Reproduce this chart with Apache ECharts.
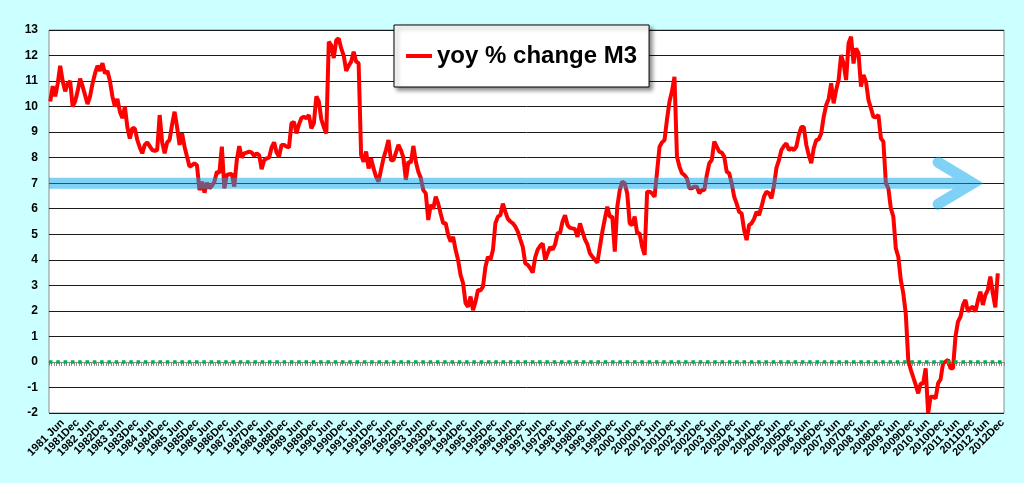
<!DOCTYPE html>
<html>
<head>
<meta charset="utf-8">
<script src="https://cdn.jsdelivr.net/npm/echarts@6/dist/echarts.min.js"></script>
<style>
html,body{margin:0;padding:0;background:#CCFFFF;}
#chart{width:1024px;height:483px;}
</style>
</head>
<body>
<div id="chart"></div>
<script>
// ---- data ----
const firstYear = 1981;
const lastYear = 2012;
const months = ['Jan','Feb','Mar','Apr','May','Jun','Jul','Aug','Sep','Oct','Nov','Dec'];
const tickLabelMonths = ['Jun','Dec'];
const seriesName = 'yoy % change M3';

const m3_1980s = [
  10.2, 10.8, 10.4, 10.9, 11.6, 11.0, 10.6, 10.9, 11.0, 10.0, 10.2, 10.6,
  11.1, 10.8, 10.45, 10.1, 10.4, 10.9, 11.3, 11.6, 11.4, 11.7, 11.3, 11.4,
  11.0, 10.4, 10.0, 10.3, 9.8, 9.55, 10.0, 9.2, 8.75, 9.15, 9.15, 8.7,
  8.4, 8.17, 8.5, 8.6, 8.45, 8.3, 8.27, 8.3, 9.67, 8.6, 8.17, 8.6,
  8.7, 9.3, 9.8, 9.2, 8.5, 8.95, 8.43, 8.04, 7.65, 7.7, 7.78, 7.7,
  6.73, 7.06, 6.63, 7.02, 6.8, 6.9, 7.06, 7.45, 7.4, 8.43, 6.8, 7.32,
  7.35, 7.36, 6.87, 7.9, 8.45, 8.0, 8.17, 8.2, 8.24, 8.2, 8.07, 8.17,
  8.1, 7.55, 7.9, 7.97, 8.0, 8.4, 8.6, 8.2, 8.04, 8.5, 8.5, 8.43,
  8.4, 9.35, 9.4, 8.95, 9.3, 9.55, 9.6, 9.54, 9.67, 9.15, 9.35, 10.4
];
const m3_1990s = [
  10.2, 9.5, 9.2, 8.95, 12.54, 12.4, 11.9, 12.6, 12.67, 12.28, 12.0, 11.4,
  11.6, 11.76, 12.15, 11.76, 11.7, 8.1, 7.84, 8.24, 7.58, 7.97, 7.58, 7.26,
  7.06, 7.52, 7.97, 8.3, 8.69, 7.9, 7.9, 8.2, 8.5, 8.3, 8.0, 7.13,
  7.84, 7.8, 8.46, 7.84, 7.45, 7.2, 6.73, 6.6, 5.56, 6.15, 6.0, 6.47,
  6.2, 5.8, 5.43, 5.43, 4.97, 4.71, 4.9, 4.38, 3.99, 3.4, 3.08, 2.3,
  2.16, 2.56, 2.03, 2.36, 2.82, 2.8, 2.95, 3.73, 4.12, 4.0, 4.38, 5.43,
  5.69, 5.75, 6.2, 5.88, 5.6, 5.5, 5.43, 5.3, 5.1, 4.8, 4.51, 3.86,
  3.8, 3.67, 3.5, 4.1, 4.4, 4.55, 4.64, 3.99, 4.25, 4.5, 4.4, 4.6,
  5.04, 5.06, 5.5, 5.75, 5.36, 5.25, 5.23, 5.2, 4.9, 5.43, 5.1, 4.8,
  4.6, 4.25, 4.12, 4.0, 3.89, 4.5, 5.1, 5.6, 6.08, 5.69, 5.69, 4.32
];
const m3_2000s = [
  6.08, 6.73, 7.06, 7.0, 6.6, 5.43, 5.36, 5.69, 5.04, 5.04, 4.51, 4.19,
  6.67, 6.67, 6.6, 6.47, 7.45, 8.43, 8.6, 8.69, 9.5, 10.2, 10.6, 11.17,
  8.04, 7.65, 7.39, 7.32, 7.19, 6.8, 6.8, 6.86, 6.86, 6.6, 6.73, 6.73,
  7.32, 7.78, 7.91, 8.63, 8.43, 8.24, 8.2, 8.04, 7.45, 7.39, 6.99, 6.47,
  6.2, 5.88, 5.82, 5.17, 4.77, 5.36, 5.43, 5.6, 5.88, 5.75, 6.08, 6.47,
  6.67, 6.6, 6.41, 6.9, 7.6, 7.9, 8.3, 8.45, 8.56, 8.3, 8.37, 8.3,
  8.43, 8.89, 9.2, 9.2, 8.5, 8.1, 7.78, 8.37, 8.69, 8.72, 8.95, 9.6,
  10.06, 10.3, 10.91, 10.13, 10.65, 11.04, 12.02, 11.69, 11.04, 12.48, 12.74, 11.69,
  12.28, 12.09, 10.78, 11.24, 10.98, 10.26, 9.93, 9.6, 9.58, 9.67, 8.76, 8.63,
  7.0, 6.8, 6.02, 5.69, 4.45, 4.12, 3.21, 2.69, 1.9, 0.08, -0.3, -0.6
];
const m3_2010s = [
  -0.9, -1.23, -0.84, -0.84, -0.25, -2.01, -1.36, -1.36, -1.43, -0.84, -0.68, -0.05,
  0.01, 0.08, -0.25, -0.25, 1.0, 1.58, 1.77, 2.23, 2.43, 1.97, 2.1, 2.16,
  1.97, 2.4, 2.75, 2.23, 2.62, 2.82, 3.34, 2.69, 2.14, 3.47, null, null
];

// y axis
const yMin = -2, yMax = 13, yStep = 1;
// reference levels
const zeroLevel = 0;
const arrowLevel = 7;
// arrow geometry in axis units (category index / value)
const arrowTipIndex = 371;
const arrowWingIndex = 357;
const arrowWingSpread = 0.82;

// ---- build ----
const categories = [];
for (let y = firstYear; y <= lastYear; y++) {
  months.forEach(m => categories.push(m === 'Dec' ? (y + 'Dec') : (y + ' ' + m)));
}
const values = m3_1980s.concat(m3_1990s, m3_2000s, m3_2010s);
const isTickLabel = (val) => tickLabelMonths.some(m => val.endsWith(m));
const lastIdx = categories.length - 1;

const chart = echarts.init(document.getElementById('chart'));
const FONT = 'Liberation Sans, Arial, sans-serif';

chart.setOption({
  animation: false,
  backgroundColor: '#CCFFFF',
  textStyle: { fontFamily: FONT },
  grid: {
    left: 49, right: 20, top: 30, bottom: 70,
    show: true, backgroundColor: '#FFFFFF',
    borderColor: '#8c8c8c', borderWidth: 1
  },
  legend: {
    data: [{ name: seriesName, icon: 'rect' }],
    left: 394, top: 25,
    padding: [18, 12, 18, 12],
    itemWidth: 26, itemHeight: 4,
    backgroundColor: '#FFFFFF',
    borderColor: '#000000', borderWidth: 1,
    shadowColor: 'rgba(0,0,0,0.45)', shadowBlur: 4, shadowOffsetX: 3, shadowOffsetY: 3,
    textStyle: { fontSize: 24, fontWeight: 'bold', color: '#000', fontFamily: FONT, lineHeight: 26 },
    selectedMode: false
  },
  xAxis: {
    type: 'category',
    data: categories,
    boundaryGap: true,
    axisLine: { show: true, lineStyle: { color: '#8c8c8c', width: 1 } },
    axisTick: { show: true, interval: 0, length: 4, lineStyle: { color: '#8c8c8c' } },
    axisLabel: {
      // empty placeholder labels at the first and second-to-last slots keep the
      // real first/last labels from being dropped by the min/max overlap check
      interval: (idx, val) => idx === 0 || idx === lastIdx - 1 || isTickLabel(val),
      formatter: (val) => isTickLabel(val) ? val : '',
      rotate: 45,
      fontSize: 11,
      fontWeight: 'bold',
      color: '#000',
      margin: 8,
      fontFamily: FONT
    },
    splitLine: { show: false }
  },
  yAxis: {
    type: 'value',
    min: yMin, max: yMax, interval: yStep,
    axisLine: { show: false },
    axisTick: { show: false },
    axisLabel: { fontSize: 12, fontWeight: 'bold', color: '#000', margin: 11, fontFamily: FONT },
    splitLine: { show: true, lineStyle: { color: '#1a1a1a', width: 1 } }
  },
  series: [
    {
      name: seriesName,
      type: 'line',
      data: values,
      symbol: 'none',
      connectNulls: false,
      lineStyle: { color: '#FF0000', width: 4 },
      itemStyle: { color: '#FF0000' },
      z: 2,
      markLine: {
        silent: true,
        symbol: 'none',
        label: { show: false },
        lineStyle: { color: '#00B050', width: 3.5, type: [3.5, 3.8] },
        data: [{ yAxis: zeroLevel }]
      }
    },
    {
      name: 'arrow',
      type: 'custom',
      clip: true,
      silent: true,
      z: 5,
      data: [[arrowTipIndex, arrowLevel]],
      encode: { x: 0, y: 1 },
      renderItem: function (params, api) {
        const band = api.size([1, 0])[0];
        const tail = api.coord([0, arrowLevel]);
        tail[0] -= band * 3;
        const tip = api.coord([arrowTipIndex, arrowLevel]);
        const w1 = api.coord([arrowWingIndex, arrowLevel + arrowWingSpread]);
        const w2 = api.coord([arrowWingIndex, arrowLevel - arrowWingSpread]);
        const d = 'M' + tail[0] + ' ' + tail[1] + 'L' + tip[0] + ' ' + tip[1] +
                  'M' + w1[0] + ' ' + w1[1] + 'L' + tip[0] + ' ' + tip[1] + 'L' + w2[0] + ' ' + w2[1];
        return {
          type: 'path',
          shape: { pathData: d },
          style: {
            fill: 'none',
            stroke: 'rgba(0,166,236,0.5)',
            lineWidth: 11,
            lineCap: 'round',
            lineJoin: 'miter'
          }
        };
      }
    }
  ]
});
</script>
</body>
</html>
